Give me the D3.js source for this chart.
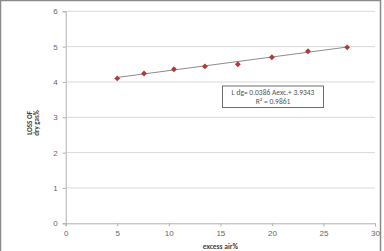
<!DOCTYPE html>
<html>
<head>
<meta charset="utf-8" />
<script src="https://d3js.org/d3.v7.min.js"></script>
<style>
body { margin: 0; background: #fff; }
svg { font-family: Calibri, "Liberation Sans", Arial, sans-serif; }
</style>
</head>
<body>
<svg id="chart" width="384" height="251"></svg>
<script>
// data
var excessAir = [5, 7.6, 10.5, 13.5, 16.7, 20, 23.5, 27.3];
var lossDryGas = [4.1, 4.24, 4.36, 4.44, 4.5, 4.7, 4.87, 4.98];
var xTicks = [0, 5, 10, 15, 20, 25, 30];
var yTicks = [0, 1, 2, 3, 4, 5, 6];
var slope = 0.0386, intercept = 3.9343;
var eqLines = ["L dg= 0.0386 Aexc.+ 3.9343", "R\u00b2 = 0.9861"];

var svg = d3.select("#chart");

// outer frame
svg.append("rect").attr("x", 0.5).attr("y", 0.5).attr("width", 380).attr("height", 260)
  .attr("fill", "none").attr("stroke", "#8a8a8a").attr("stroke-width", 1.5);

var x = d3.scaleLinear().domain([0, 30]).range([65.7, 375]);
var y = d3.scaleLinear().domain([0, 6]).range([223.3, 11.3]);

// gridlines
svg.append("g").selectAll("line").data(yTicks.slice(1)).enter().append("line")
  .attr("x1", x(0)).attr("x2", x(30))
  .attr("y1", d => y(d)).attr("y2", d => y(d))
  .attr("stroke", "#d9d9d9").attr("stroke-width", 1);

var xAxis = svg.append("g").attr("transform", "translate(0," + y(0) + ")")
  .call(d3.axisBottom(x).tickValues(xTicks).tickFormat(d3.format("d")).tickSize(3).tickPadding(4));
var yAxis = svg.append("g").attr("transform", "translate(" + x(0) + ",0)")
  .call(d3.axisLeft(y).tickValues(yTicks).tickFormat(d3.format("d")).tickSize(3).tickPadding(5));

[xAxis, yAxis].forEach(function(a) {
  a.select(".domain").attr("stroke", "#b0b0b0");
  a.selectAll(".tick line").attr("stroke", "#b0b0b0");
  a.selectAll(".tick text").attr("fill", "#666").style("font-size", "8px");
});

// trendline
var x0 = d3.min(excessAir), x1 = d3.max(excessAir);
svg.append("line")
  .attr("x1", x(x0)).attr("y1", y(slope * x0 + intercept))
  .attr("x2", x(x1)).attr("y2", y(slope * x1 + intercept))
  .attr("stroke", "#8c8c8c").attr("stroke-width", 1);

// markers
svg.append("g").selectAll("path").data(excessAir).enter().append("path")
  .attr("d", d3.symbol().type(d3.symbolDiamond2).size(22))
  .attr("transform", (d, i) => "translate(" + x(d) + "," + y(lossDryGas[i]) + ")")
  .attr("fill", "#b03a3a");

// equation box
svg.append("rect").attr("x", 222.5).attr("y", 86).attr("width", 101).attr("height", 21.5)
  .attr("fill", "#fff").attr("stroke", "#6e6e6e").attr("stroke-width", 1);
svg.append("g").selectAll("text").data(eqLines).enter().append("text")
  .attr("x", 273).attr("y", (d, i) => 95 + i * 9.2)
  .attr("text-anchor", "middle").attr("fill", "#555").style("font-size", "7.5px")
  .text(d => d);

// axis titles
svg.append("text").attr("x", x(15)).attr("y", 249)
  .attr("text-anchor", "middle").attr("fill", "#444")
  .style("font-size", "7.5px").style("font-weight", "bold").text("excess air%");

var yt = svg.append("text").attr("transform", "translate(33,123) rotate(-90)")
  .attr("text-anchor", "middle").attr("fill", "#444")
  .style("font-size", "7px").style("font-weight", "bold");
yt.append("tspan").attr("x", 0).attr("dy", -1).text("LOSS OF");
yt.append("tspan").attr("x", 0).attr("dy", 7).text("dry gas%");
</script>
</body>
</html>
